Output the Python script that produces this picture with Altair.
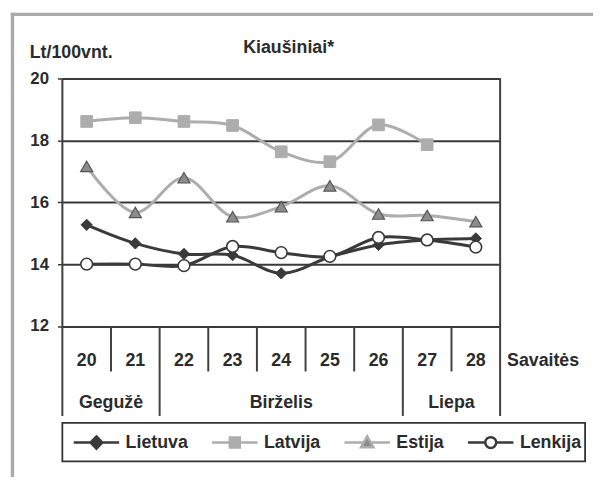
import altair as alt
import pandas as pd

# ---------------- data ----------------
weeks = [20, 21, 22, 23, 24, 25, 26, 27, 28]
lietuva = [15.27, 14.67, 14.33, 14.29, 13.70, 14.23, 14.62, 14.78, 14.83]
latvija = [18.61, 18.73, 18.61, 18.48, 17.63, 17.31, 18.50, 17.86, None]
estija = [17.16, 15.67, 16.79, 15.53, 15.86, 16.53, 15.62, 15.57, 15.37]
lenkija = [14.00, 14.00, 13.95, 14.57, 14.37, 14.25, 14.86, 14.78, 14.55]
countries = ["Lietuva", "Latvija", "Estija", "Lenkija"]
months = ["Gegužė", "Birželis", "Liepa"]
month_weeks = [[20, 21], [22, 23, 24, 25, 26], [27, 28]]
y_ticks = [12, 14, 16, 18, 20]
chart_title = "Kiaušiniai*"
y_title = "Lt/100vnt."
x_title = "Savaitės"

series = {"Lietuva": lietuva, "Latvija": latvija, "Estija": estija, "Lenkija": lenkija}
rows = [
    {"country": c, "week": w, "value": v}
    for c in countries
    for w, v in zip(weeks, series[c])
    if v is not None
]
df = pd.DataFrame(rows)

# ---------------- styles ----------------
FONT = "Liberation Sans, Arial, sans-serif"
TXT = "#2b2b2b"
DARK = "#3a3a3a"
LIGHT = "#adadad"
W, H = 443, 250.5

line_color = {"Lietuva": DARK, "Latvija": LIGHT, "Estija": LIGHT, "Lenkija": DARK}
point_style = {
    "Lietuva": dict(shape="diamond", fill=DARK, stroke=DARK, strokeWidth=1, size=130),
    "Latvija": dict(shape="square", fill=LIGHT, stroke=LIGHT, strokeWidth=1, size=140),
    "Estija": dict(shape="triangle-up", fill="#8c8c8c", stroke="#555555", strokeWidth=1.2, size=150),
    "Lenkija": dict(shape="circle", fill="#ffffff", stroke=DARK, strokeWidth=1.6, size=140),
}
draw_order = ["Latvija", "Estija", "Lietuva", "Lenkija"]

xs = alt.Scale(domain=[weeks[0] - 0.5, weeks[-1] + 0.5], nice=False, zero=False)
ys = alt.Scale(domain=[y_ticks[0], y_ticks[-1]], nice=False, zero=False)
yax = alt.Axis(
    values=y_ticks, grid=True, gridColor=DARK, gridWidth=2, domain=False,
    ticks=True, tickSize=5, tickColor=DARK, tickWidth=1.5,
    labelFontSize=17, labelFont=FONT, labelFontWeight="bold", labelColor=TXT,
    labelPadding=9, title=None, format="d",
)

layers = []

one = pd.DataFrame({"a": [0]})
# outer light-gray frame (top and left edges), drawn as filled bands
layers.append(
    alt.Chart(one).mark_rect(color="#aaaaaa", opacity=1).encode(
        x=alt.value(-52.2), x2=alt.value(600), y=alt.value(-66.5), y2=alt.value(-63.2)
    )
)
layers.append(
    alt.Chart(one).mark_rect(color="#aaaaaa", opacity=1).encode(
        x=alt.value(-52.2), x2=alt.value(-48.8), y=alt.value(-66.5), y2=alt.value(500)
    )
)

# table separators below the plot
outer_b = [weeks[0] - 0.5, weeks[-1] + 0.5]
month_b = [m[-1] + 0.5 for m in month_weeks[:-1]]
week_b = [w + 0.5 for w in weeks[:-1] if (w + 0.5) not in month_b]

ROW1 = 296.5
ROW2 = 341.5
for bvals, y1, y2 in [(outer_b, 0, ROW2), (month_b, H, ROW2), (week_b, H, ROW1)]:
    layers.append(
        alt.Chart(pd.DataFrame({"b": bvals})).mark_rule(color="#404040", strokeWidth=2).encode(
            x=alt.X("b:Q", scale=xs, axis=None), y=alt.value(y1), y2=alt.value(y2)
        )
    )

# series
for c in draw_order:
    d = df[df["country"] == c]
    xenc = alt.X("week:Q", scale=xs, axis=None)
    yenc = alt.Y("value:Q", scale=ys, axis=yax)
    layers.append(
        alt.Chart(d).mark_line(
            interpolate="catmull-rom", color=line_color[c], strokeWidth=3
        ).encode(x=xenc, y=yenc)
    )
    ps = point_style[c]
    layers.append(
        alt.Chart(d).mark_point(filled=True, opacity=1, **ps).encode(x=xenc, y=yenc)
    )

# week labels
layers.append(
    alt.Chart(pd.DataFrame({"week": weeks})).mark_text(
        font=FONT, fontSize=18, fontWeight="bold", color=TXT, baseline="middle"
    ).encode(
        x=alt.X("week:Q", scale=xs, axis=None), y=alt.value(285.5),
        text=alt.Text("week:Q", format="d"),
    )
)

# month labels
mdf = pd.DataFrame({
    "month": months,
    "center": [sum(m) / len(m) for m in month_weeks],
})
layers.append(
    alt.Chart(mdf).mark_text(
        font=FONT, fontSize=18, fontWeight="bold", color=TXT, baseline="middle"
    ).encode(x=alt.X("center:Q", scale=xs, axis=None), y=alt.value(328.5), text="month:N")
)

# annotation texts
def label(txt, x, y, align="left", size=18):
    return alt.Chart(one).mark_text(
        text=txt, font=FONT, fontSize=size, fontWeight="bold", color=TXT,
        align=align, baseline="middle",
    ).encode(x=alt.value(x), y=alt.value(y))

layers.append(label(x_title, 450, 285.5))
layers.append(label(chart_title, 229, -31, align="center"))
layers.append(label(y_title, -33, -25.5))

# legend box
layers.append(
    alt.Chart(one).mark_rect(
        fillOpacity=0, stroke="#333333", strokeWidth=1.8
    ).encode(x=alt.value(0), x2=alt.value(529), y=alt.value(348.5), y2=alt.value(387.5))
)

# legend (built from an empty layer with explicit scales)
paths = [
    "M-1,0H1M0,-0.27L0.26,0L0,0.27L-0.26,0Z",
    "M-1,0H1M-0.22,-0.22H0.22V0.22H-0.22Z",
    "M-1,0H-0.17M0.17,0H1M0,-0.28L0.27,0.2H-0.27Z",
    "M-1,0H-0.24M0.24,0H1M0.24,0A0.24,0.24,0,1,1,-0.24,0A0.24,0.24,0,1,1,0.24,0Z",
]
leg = alt.Legend(
    title=None, orient="none", legendX=0, legendY=348.5, direction="horizontal",
    columns=4, columnPadding=22, padding=10, clipHeight=20, symbolSize=2116,
    symbolStrokeWidth=2.5, labelOffset=5, labelFontSize=18, labelFont=FONT,
    labelFontWeight="bold", labelColor=TXT, symbolOpacity=1,
)
legend_layer = alt.Chart(df).transform_filter("datum.value < 0").mark_point(
    filled=True, opacity=1, strokeWidth=2.5
).encode(
    shape=alt.Shape("country:N", scale=alt.Scale(domain=countries, range=paths), legend=leg),
    fill=alt.Fill("country:N", scale=alt.Scale(domain=countries, range=[DARK, LIGHT, "#8c8c8c", "#ffffff"]), legend=leg),
    stroke=alt.Stroke("country:N", scale=alt.Scale(domain=countries, range=[DARK, LIGHT, LIGHT, DARK]), legend=leg),
)
layers.append(legend_layer)

chart = alt.layer(*layers).properties(
    width=W, height=H,
    padding={"left": 55, "top": 68.5, "right": 94, "bottom": 150},
    autosize=alt.AutoSizeParams(type="none"),
).configure_view(stroke="transparent").configure(background="#ffffff")

chart.save("out.html", embed_options={"renderer": "svg", "actions": False})
